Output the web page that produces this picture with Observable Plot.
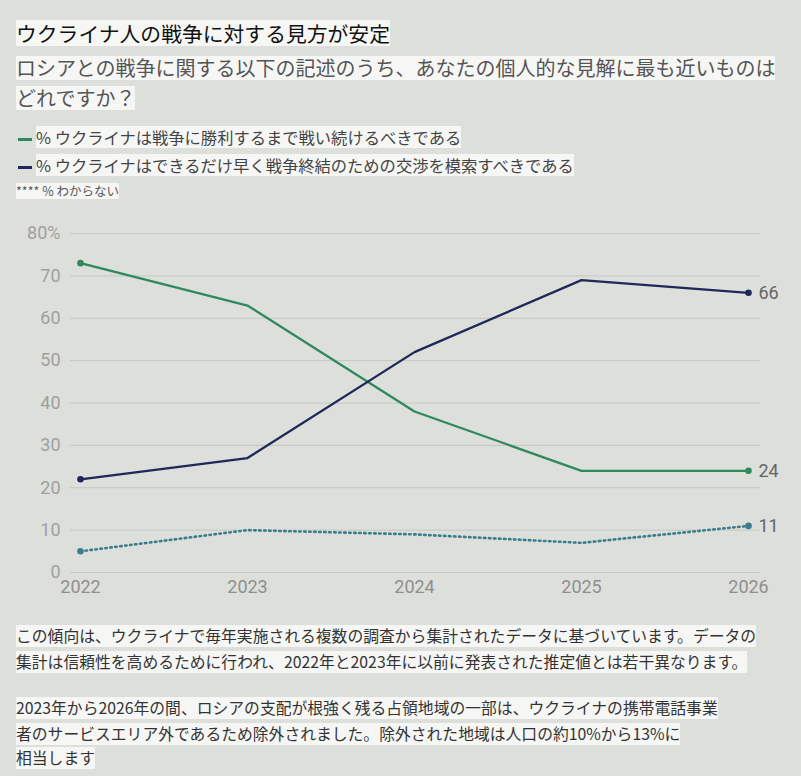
<!DOCTYPE html>
<html><head><meta charset="utf-8">
<script src="https://cdn.jsdelivr.net/npm/d3@7"></script>
<script src="https://cdn.jsdelivr.net/npm/@observablehq/plot@0.6"></script>
<style>
body{margin:0;background:#dcdfda;font-family:"Noto Sans CJK JP","Noto Sans",sans-serif;width:801px;height:776px;position:relative;overflow:hidden}
.a{position:absolute;left:16px;white-space:nowrap}
.hl{background:rgba(250,251,249,0.85);display:inline-block}
#title{top:20px;font-size:20.8px;line-height:26px;color:#111}
.sub{font-size:20px;color:#555;line-height:24px}
.leg{font-size:16.3px;color:#444;left:18px;line-height:22px}
.sw{display:inline-block;width:14px;height:3px;vertical-align:middle;margin-right:4px}
#chart{position:absolute;left:0;top:210px}
.note{font-size:15.8px;color:#333;line-height:22px}
</style></head><body>
<div class="a" id="title"><span class="hl">ウクライナ人の戦争に対する見方が安定</span></div>
<div class="a sub" style="top:56px"><span class="hl">ロシアとの戦争に関する以下の記述のうち、あなたの個人的な見解に最も近いものは</span></div>
<div class="a sub" style="top:86px"><span class="hl">どれですか？</span></div>
<div class="a leg" style="top:126px"><span class="sw" style="background:#2e8a5c"></span><span class="hl">% ウクライナは戦争に勝利するまで戦い続けるべきである</span></div>
<div class="a leg" style="top:154px"><span class="sw" style="background:#1f2858"></span><span class="hl">% ウクライナはできるだけ早く戦争終結のための交渉を模索すべきである</span></div>
<div class="a" style="top:183px;font-size:12.5px;line-height:16px;color:#555;left:16px"><span class="hl">**** % わからない</span></div>
<div id="chart"></div>
<div class="a note" style="top:625px"><span class="hl">この傾向は、ウクライナで毎年実施される複数の調査から集計されたデータに基づいています。データの</span></div>
<div class="a note" style="top:651px"><span class="hl">集計は信頼性を高めるために行われ、2022年と2023年に以前に発表された推定値とは若干異なります。</span></div>
<div class="a note" style="top:697px"><span class="hl">2023年から2026年の間、ロシアの支配が根強く残る占領地域の一部は、ウクライナの携帯電話事業</span></div>
<div class="a note" style="top:723px"><span class="hl">者のサービスエリア外であるため除外されました。除外された地域は人口の約10%から13%に</span></div>
<div class="a note" style="top:747px"><span class="hl">相当します</span></div>
<script>
const years = [2022, 2023, 2024, 2025, 2026];
const fight = [73, 63, 38, 24, 24];
const negotiate = [22, 27, 52, 69, 66];
const dontKnow = [5, 10, 9, 7, 11];
const yTicks = [0, 10, 20, 30, 40, 50, 60, 70, 80];

const series = [
  {name: "fight", values: fight, color: "#2e8a5c", dash: null},
  {name: "negotiate", values: negotiate, color: "#1f2858", dash: null},
  {name: "dk", values: dontKnow, color: "#3a7d8e", dash: "1.5,3.5"}
];
const marks = [
  Plot.ruleY(yTicks, {stroke: "#c4c7c2", strokeWidth: 1})
];
for (const s of series) {
  const data = years.map((y, i) => ({year: y, value: s.values[i]}));
  marks.push(Plot.line(data, {x: "year", y: "value", stroke: s.color, strokeWidth: s.dash ? 2.6 : 2.3, strokeDasharray: s.dash, strokeLinecap: s.dash ? "round" : "butt"}));
  const ends = [data[0], data[data.length - 1]];
  marks.push(Plot.dot(ends, {x: "year", y: "value", fill: s.color, r: 3.3}));
  marks.push(Plot.text([data[data.length - 1]], {x: "year", y: "value", text: d => String(d.value), dx: 10, textAnchor: "start", fill: "#666", fontSize: 18}));
}
const chart = Plot.plot({
  width: 801, height: 400,
  marginLeft: 70, marginRight: 41, marginTop: 23, marginBottom: 38,
  style: {background: "transparent", fontFamily: "Roboto, 'Noto Sans', sans-serif"},
  x: {domain: [2022, 2026], insetLeft: 10, insetRight: 12, label: null},
  y: {domain: [0, 80], label: null},
  marks: [
    ...marks,
    Plot.axisX({ticks: years, tickFormat: d => String(d), tickSize: 0, tickPadding: 8, fontSize: 18, fill: "#8f8f8f", label: null}),
    Plot.axisY({ticks: yTicks, tickFormat: d => d === 80 ? "80%" : String(d), tickSize: 0, tickPadding: 10, fontSize: 18, fill: "#a0a0a0", label: null})
  ]
});
document.getElementById("chart").appendChild(chart);
</script>
</body></html>
